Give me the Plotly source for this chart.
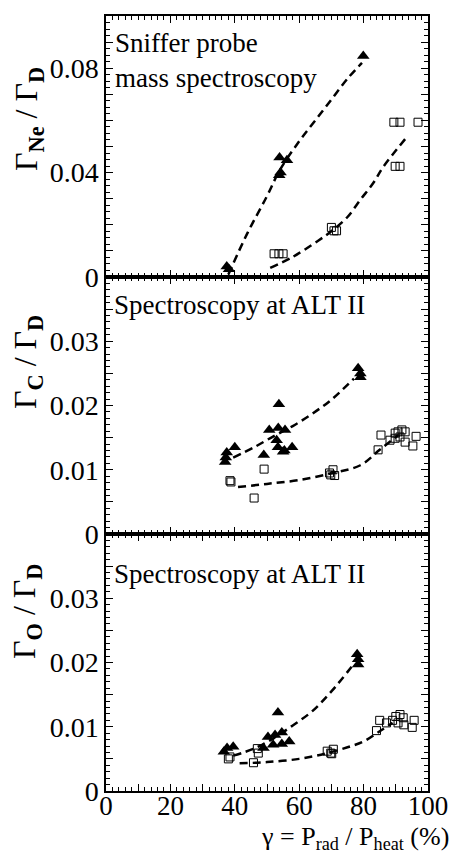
import plotly.graph_objects as go
from plotly.subplots import make_subplots

# ---------------- data ----------------
# Panel 1: Neon (sniffer probe)
ne_tri_x = [37.5, 38.2, 53.8, 54.2, 53.9, 56.2, 79.9]
ne_tri_y = [0.004, 0.003, 0.039, 0.040, 0.0458, 0.0447, 0.0847]
ne_sq_x = [52.2, 53.7, 55.0, 70.0, 71.6, 70.8, 89.8, 91.3, 89.4, 91.3, 96.9]
ne_sq_y = [0.0089, 0.0089, 0.0089, 0.019, 0.0177, 0.0177, 0.0424, 0.0424, 0.0593, 0.0593, 0.0593]
ne_fit_tri_x = [38, 44, 50, 54, 60, 65, 70, 75, 79.5]
ne_fit_tri_y = [0.001, 0.017, 0.031, 0.041, 0.052, 0.060, 0.068, 0.076, 0.082]
ne_fit_sq_x = [51, 58, 66, 70.5, 75, 79, 83, 86, 93]
ne_fit_sq_y = [0.0035, 0.0077, 0.014, 0.018, 0.023, 0.0296, 0.036, 0.042, 0.053]

# Panel 2: Carbon
c_tri_x = [37.0, 37.2, 37.5, 40.0, 49.0, 53.7, 50.7, 53.5, 55.6, 53.0, 53.4, 55.0, 55.4, 57.8, 78.3, 79.0, 79.0]
c_tri_y = [0.0112, 0.0119, 0.0127, 0.0135, 0.0123, 0.0202, 0.0162, 0.0165, 0.0162, 0.0146, 0.0135, 0.0128, 0.013, 0.0135, 0.0258, 0.025, 0.0244]
c_sq_x = [38.8, 38.5, 46.0, 49.1, 69.4, 70.5, 71.0, 69.8, 84.5, 85.4, 88.2, 89.8, 90.7, 91.9, 92.9, 89.8, 91.3, 92.9, 95.3, 96.3]
c_sq_y = [0.0081, 0.0083, 0.0056, 0.0101, 0.0095, 0.010, 0.0091, 0.0092, 0.0131, 0.0154, 0.0146, 0.0157, 0.0159, 0.0162, 0.0159, 0.0149, 0.0151, 0.0143, 0.0137, 0.0152]
c_fit_tri_x = [39.5, 46, 52, 58, 64, 70, 77]
c_fit_tri_y = [0.0119, 0.0135, 0.0152, 0.0168, 0.0187, 0.0209, 0.0242]
c_fit_sq_x = [41, 50, 60, 70.5, 79, 85, 90.8]
c_fit_sq_y = [0.0073, 0.0078, 0.0084, 0.0095, 0.0107, 0.0131, 0.0154]

# Panel 3: Oxygen
o_tri_x = [36.6, 37.6, 39.5, 48.9, 50.3, 53.4, 52.5, 54.6, 51.9, 54.6, 56.9, 78.0, 78.3, 78.3]
o_tri_y = [0.0061, 0.0067, 0.0069, 0.0067, 0.0084, 0.0122, 0.0087, 0.0091, 0.0072, 0.0073, 0.0077, 0.0213, 0.0205, 0.0197]
o_sq_x = [38.0, 38.5, 45.8, 47.0, 47.3, 68.7, 69.8, 70.6, 70.1, 84.0, 85.0, 87.1, 89.0, 90.0, 91.3, 92.3, 90.7, 92.5, 95.1, 95.7]
o_sq_y = [0.005, 0.0053, 0.0044, 0.0066, 0.0059, 0.0062, 0.0059, 0.0065, 0.0058, 0.0094, 0.011, 0.0106, 0.011, 0.0116, 0.0119, 0.0114, 0.0106, 0.0103, 0.0099, 0.011]
o_fit_tri_x = [39.5, 46, 52, 58, 64, 70, 77]
o_fit_tri_y = [0.0055, 0.0066, 0.0082, 0.0102, 0.0124, 0.0155, 0.0198]
o_fit_sq_x = [41.5, 50, 60, 68, 75, 80, 85, 89]
o_fit_sq_y = [0.0043, 0.0045, 0.005, 0.0058, 0.0068, 0.0077, 0.0093, 0.0106]

x_ticks = [0, 10, 20, 30, 40, 50, 60, 70, 80, 90, 100]
x_labels = ["0", "", "20", "", "40", "", "60", "", "80", "", "100"]
ne_ticks = [0, 0.01, 0.02, 0.03, 0.04, 0.05, 0.06, 0.07, 0.08, 0.09, 0.1]
ne_labels = ["0", "", "", "", "0.04", "", "", "", "0.08", "", ""]
co_ticks = [0, 0.005, 0.01, 0.015, 0.02, 0.025, 0.03, 0.035, 0.04]
co_labels = ["0", "", "0.01", "", "0.02", "", "0.03", "", ""]

panels = [
    (ne_tri_x, ne_tri_y, ne_sq_x, ne_sq_y, ne_fit_tri_x, ne_fit_tri_y, ne_fit_sq_x, ne_fit_sq_y),
    (c_tri_x, c_tri_y, c_sq_x, c_sq_y, c_fit_tri_x, c_fit_tri_y, c_fit_sq_x, c_fit_sq_y),
    (o_tri_x, o_tri_y, o_sq_x, o_sq_y, o_fit_tri_x, o_fit_tri_y, o_fit_sq_x, o_fit_sq_y),
]

FONT = "Liberation Serif, Times New Roman, serif"

fig = make_subplots(rows=3, cols=1, vertical_spacing=0, row_heights=[261, 257, 257])

dash = "8px,5px"
for i, (tx, ty, sx, sy, ftx, fty, fsx, fsy) in enumerate(panels, start=1):
    fig.add_trace(go.Scatter(x=ftx, y=fty, mode="lines", line=dict(color="black", width=2.5, dash=dash),
                             line_shape="spline", showlegend=False), row=i, col=1)
    fig.add_trace(go.Scatter(x=fsx, y=fsy, mode="lines", line=dict(color="black", width=2.5, dash=dash),
                             line_shape="spline", showlegend=False), row=i, col=1)
    fig.add_trace(go.Scatter(x=tx, y=ty, mode="markers",
                             marker=dict(symbol="triangle-up", size=11, color="black"),
                             showlegend=False), row=i, col=1)
    fig.add_trace(go.Scatter(x=sx, y=sy, mode="markers",
                             marker=dict(symbol="square-open", size=8, color="black", line=dict(width=1)),
                             showlegend=False), row=i, col=1)

axis_common = dict(showline=True, linecolor="black", linewidth=1.5, mirror="allticks",
                   ticks="inside", tickcolor="black", showgrid=False, zeroline=False)

for i in range(1, 4):
    fig.update_xaxes(range=[0, 100], tickvals=x_ticks, ticktext=x_labels, ticklen=7, tickwidth=1.2,
                     minor=dict(dtick=2, ticklen=4, ticks="inside", tickcolor="black"),
                     tickfont=dict(family=FONT, size=27, color="black"),
                     showticklabels=(i == 3), ticklabelstandoff=-10, row=i, col=1, **axis_common)

fig.update_yaxes(range=[0, 0.1], tickvals=ne_ticks, ticktext=ne_labels, ticklen=7, tickwidth=1.2,
                 minor=dict(dtick=0.0025, ticklen=4, ticks="inside", tickcolor="black"),
                 tickfont=dict(family=FONT, size=28, color="black"),
                 row=1, col=1, **axis_common)
for r in (2, 3):
    fig.update_yaxes(range=[0, 0.04], tickvals=co_ticks, ticktext=co_labels, ticklen=7, tickwidth=1.2,
                     minor=dict(dtick=0.001, ticklen=4, ticks="inside", tickcolor="black"),
                     tickfont=dict(family=FONT, size=28, color="black"),
                     row=r, col=1, **axis_common)

# pixel helpers for annotations (plot area: x 106..428, y 16..791)
def px(xp):
    return (xp - 106) / 322.0

def py(yp):
    return (791 - yp) / 775.0

ann_font = dict(family=FONT, size=27, color="black")
title_font = dict(family=FONT, size=32, color="black")
annotations = [
    dict(text="Sniffer probe<br>mass spectroscopy", x=px(113), y=py(26), xanchor="left", yanchor="top",
         align="left", showarrow=False, font=ann_font, xref="paper", yref="paper"),
    dict(text="Spectroscopy at ALT II", x=px(112), y=py(305), xanchor="left", yanchor="middle",
         showarrow=False, font=ann_font, xref="paper", yref="paper"),
    dict(text="Spectroscopy at ALT II", x=px(112), y=py(574), xanchor="left", yanchor="middle",
         showarrow=False, font=ann_font, xref="paper", yref="paper"),
    dict(text="Γ<sub><b>Ne</b></sub> / Γ<sub><b>D</b></sub>", x=px(28), y=py(119), textangle=-90,
         xanchor="center", yanchor="middle", showarrow=False, font=title_font, xref="paper", yref="paper"),
    dict(text="Γ<sub><b>C</b></sub> / Γ<sub><b>D</b></sub>", x=px(28), y=py(362), textangle=-90,
         xanchor="center", yanchor="middle", showarrow=False, font=title_font, xref="paper", yref="paper"),
    dict(text="Γ<sub><b>O</b></sub> / Γ<sub><b>D</b></sub>", x=px(26), y=py(612), textangle=-90,
         xanchor="center", yanchor="middle", showarrow=False, font=title_font, xref="paper", yref="paper"),
    dict(text="γ = P<sub>rad</sub> / P<sub>heat</sub> (%)", x=px(451), y=py(856), xanchor="right",
         yanchor="bottom", showarrow=False, font=dict(family=FONT, size=26, color="black"),
         xref="paper", yref="paper"),
]

fig.update_layout(width=458, height=855, margin=dict(l=106, r=30, t=16, b=64, autoexpand=False),
                  paper_bgcolor="white", plot_bgcolor="white", annotations=annotations,
                  font=dict(family=FONT, color="black"))

fig.write_html("out.html")
